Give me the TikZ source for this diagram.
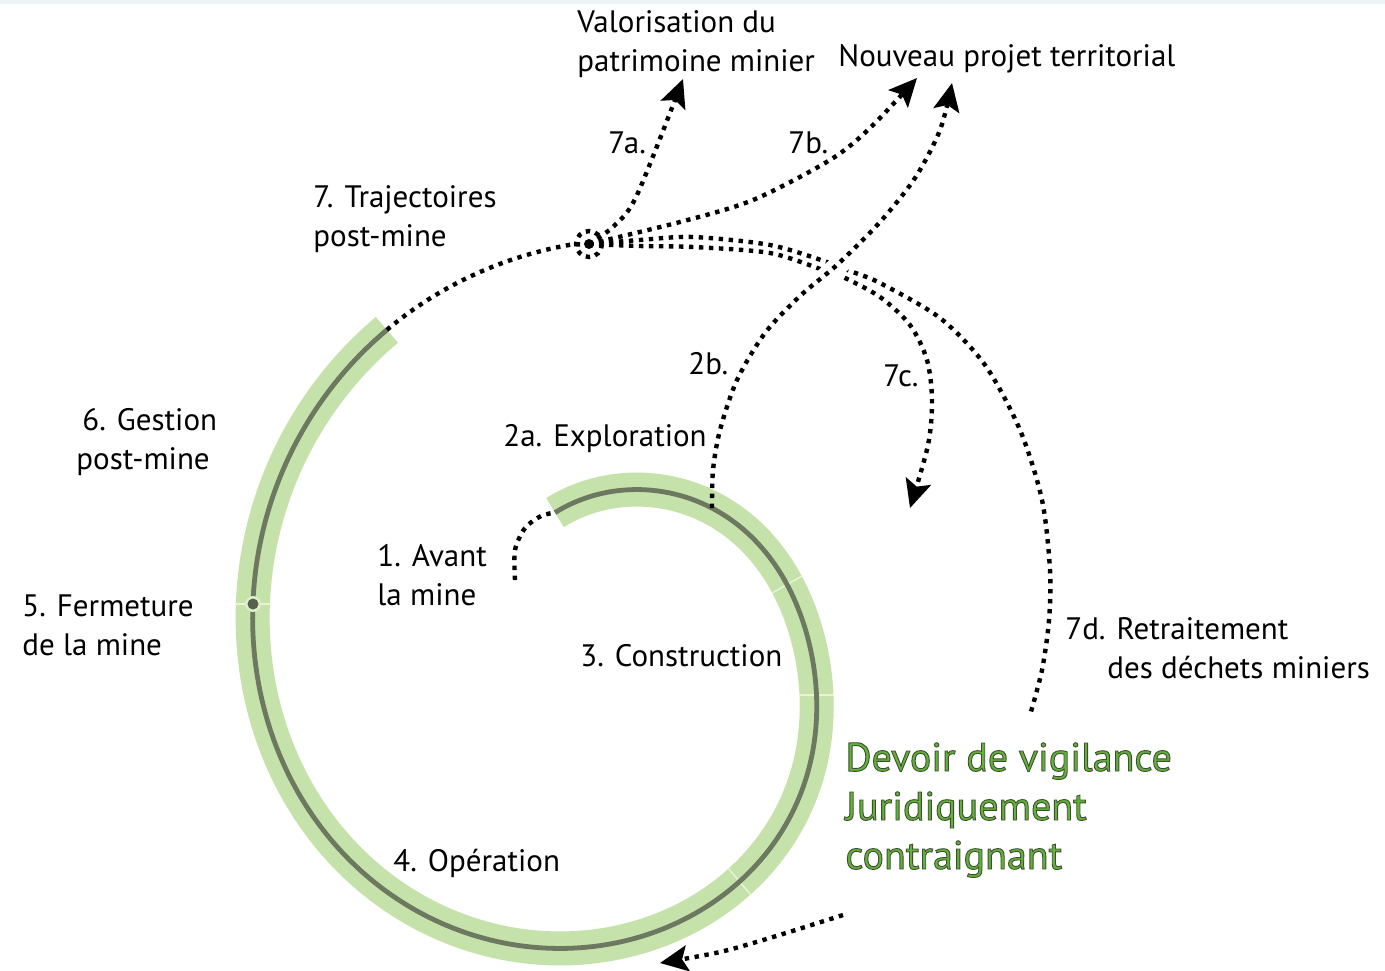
\documentclass[tikz,border=0pt]{standalone}
\usepackage{fontspec}
\setmainfont{PT Sans}
\usetikzlibrary{arrows.meta}
\definecolor{bandgreen}{RGB}{196,226,170}
\definecolor{coregray}{RGB}{108,120,96}
\definecolor{sepcol}{RGB}{234,243,216}
\definecolor{vgreen}{RGB}{96,178,56}
\definecolor{topstrip}{RGB}{238,243,246}
\tikzset{
  declare function={sr(\t)=162.5+63.5*(\t/90)-13*exp(max(-8,-((\t-90)/40)^2))-9*exp(max(-8,-((\t-280)/50)^2));},
  lbl/.style={font=\fontsize{15.5}{19}\selectfont, inner sep=0pt, anchor=base west},
  glbl/.style={font=\fontsize{20}{24}\selectfont, inner sep=0pt, anchor=base west, text=vgreen},
  dots/.style={line width=2.2pt, dash pattern=on 2.2pt off 2.8pt, line cap=butt},
  arr/.style={-{Stealth[length=14pt,width=13pt,inset=2.8pt]}},
  band/.style={line width=17pt, draw=bandgreen, line cap=butt},
  core/.style={line width=2.4pt, draw=coregray, line cap=butt},
  sepline/.style={line width=0.7pt, draw=sepcol},
}
\begin{document}
\begin{tikzpicture}[x=0.5pt,y=-0.5pt]
\useasboundingbox (0,0) rectangle (1385,970);
\fill[topstrip] (0,0) rectangle (1385,4);
% key points
\coordinate (s1) at (515,580);
\coordinate (bandS) at ({599+sr(-17)*sin(-17)},{656.5-sr(-17)*cos(-17)});
\coordinate (bandE) at ({599+sr(327)*sin(327)},{656.5-sr(327)*cos(327)});
\coordinate (hub) at (589,244);
\coordinate (t7a) at (683,79);
\coordinate (t7b) at (917,78);
\coordinate (s2b) at (712,508);
\coordinate (t2b) at (952,83);
\coordinate (t7c) at (910,508);
\coordinate (e7d) at (1030,715);
\coordinate (sB) at (843,915);
\coordinate (tB) at (660,963);
% spiral band
\draw[band] plot[domain=-17:327, samples=140, smooth, variable=\t] ({599+sr(\t)*sin(\t)},{656.5-sr(\t)*cos(\t)});
% separators
\draw[sepline] (772,593) -- (802,576);
\draw[sepline] (799,695) -- (834,695);
\draw[sepline] (728,868) -- (751,895);
\draw[sepline] (235,604) -- (271,604);
\draw[core] plot[domain=-17:327, samples=140, smooth, variable=\t] ({599+sr(\t)*sin(\t)},{656.5-sr(\t)*cos(\t)});
\node[circle, fill=sepcol!70!bandgreen, inner sep=0pt, minimum size=8pt] (m45) at (253,604) {};
\node[circle, fill=coregray!80!black, inner sep=0pt, minimum size=5.5pt] (m45c) at (253,604) {};
% start dotted
\draw[dots] plot[smooth] coordinates {(s1) (515,550) (525,528) (541,516) (bandS)};
% from band end to hub
\draw[dots] plot[domain=327:356, samples=20, smooth, variable=\t] ({599+sr(\t)*sin(\t)},{656.5-sr(\t)*cos(\t)}) -- (hub);
% 7c and 7d
\draw[dots] plot[smooth] coordinates {(hub) (640,240) (693,237) (770,245) (827,262) (850,271) (880,283) (940,318) (985,365) (1020,430) (1042,500) (1050,570) (1049,620) (1042,670) (e7d)};
\draw[dots, arr] plot[smooth] coordinates {(hub) (640,246) (693,247) (770,253) (823,270) (843,277) (880,297) (910,325) (927,360) (932,400) (928,445) (t7c)};
% white gap at crossing
\draw[white, line width=10pt] (812,290) -- (860,245);
% 2b
\draw[dots, arr] plot[smooth] coordinates {(s2b) (713,470) (720,430) (737,380) (765,333) (800,296) (838,264) (880,222) (915,178) (940,130) (t2b)};
% 7a, 7b
\draw[dots, arr] plot[smooth] coordinates {(hub) (614,226) (637,195) (t7a)};
\draw[dots, arr] plot[smooth] coordinates {(hub) (680,222) (753,200) (830,160) (870,128) (t7b)};
% bottom arrow
\draw[dots, arr] plot[smooth] coordinates {(sB) (773,937) (720,952) (tB)};
% hub
\fill (hub) circle[radius=5];
\draw[line width=2.2pt, dash pattern=on 2.2pt off 2.6pt] (hub) circle[radius=13];
% labels
\node[lbl] (lv1) at (577,32) {Valorisation du};
\node[lbl] (lv2) at (577,71) {patrimoine minier};
\node[lbl] (lnp) at (838,66) {Nouveau projet territorial};
\node[lbl] (l7a) at (608,153) {7a.};
\node[lbl] (l7b) at (788,153) {7b.};
\node[lbl] (l71) at (313,207) {7. Trajectoires};
\node[lbl] (l72) at (313,246) {post-mine};
\node[lbl] (l61) at (82,430) {6. Gestion};
\node[lbl] (l62) at (76,469) {post-mine};
\node[lbl] (l51) at (22,616) {5. Fermeture};
\node[lbl] (l52) at (22,655) {de la mine};
\node[lbl] (l11) at (377,566) {1. Avant};
\node[lbl] (l12) at (377,605) {la mine};
\node[lbl] (l2a) at (503,446) {2a. Exploration};
\node[lbl] (l2b) at (688,374) {2b.};
\node[lbl] (l7c) at (883,386) {7c.};
\node[lbl] (l3) at (580,666) {3. Construction};
\node[lbl] (l4) at (393,871) {4. Opération};
\node[lbl] (l7d1) at (1065,639) {7d. Retraitement};
\node[lbl] (l7d2) at (1107,678) {des déchets miniers};
\node[glbl] (g1) at (845,771) {\special{pdf:literal direct 2 Tr 0.45 w 0.25 0.3 0.2 RG}Devoir de vigilance\special{pdf:literal direct 0 Tr}};
\node[glbl] (g2) at (845,820) {\special{pdf:literal direct 2 Tr 0.45 w 0.25 0.3 0.2 RG}Juridiquement\special{pdf:literal direct 0 Tr}};
\node[glbl] (g3) at (845,869) {\special{pdf:literal direct 2 Tr 0.45 w 0.25 0.3 0.2 RG}contraignant\special{pdf:literal direct 0 Tr}};
\end{tikzpicture}
\end{document}
